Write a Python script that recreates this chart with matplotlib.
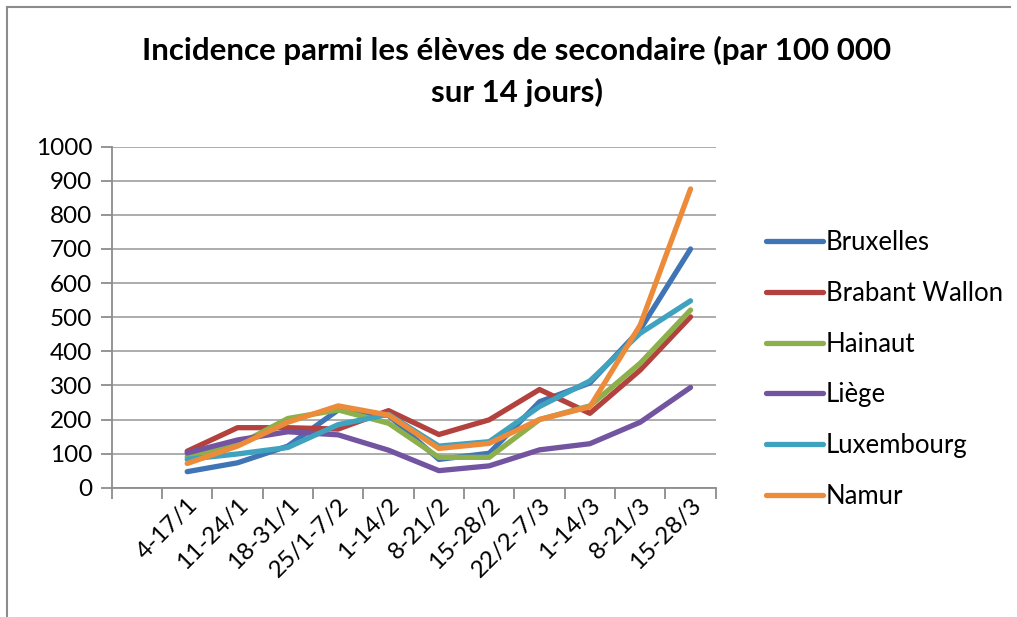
import matplotlib
matplotlib.use('Agg')
from matplotlib import pyplot as plt
from matplotlib.lines import Line2D
import numpy as np

# catégories (la première est vide dans le graphique d'origine)
periodes = ['', '4-17/1', '11-24/1', '18-31/1', '25/1-7/2', '1-14/2', '8-21/2',
            '15-28/2', '22/2-7/3', '1-14/3', '8-21/3', '15-28/3']

# incidence par 100 000 sur 14 jours
bruxelles      = [47, 73, 122, 228, 212, 83, 101, 252, 307, 464, 700]
brabant_wallon = [107, 176, 176, 172, 226, 156, 199, 288, 218, 345, 501]
hainaut        = [91, 125, 203, 228, 189, 89, 89, 200, 240, 365, 521]
liege          = [102, 140, 164, 155, 110, 50, 64, 111, 129, 192, 294]
luxembourg     = [83, 99, 118, 185, 215, 122, 135, 238, 313, 453, 548]
namur          = [71, 122, 192, 240, 213, 115, 130, 200, 237, 477, 876]

noms = ['Bruxelles', 'Brabant Wallon', 'Hainaut', 'Liège', 'Luxembourg', 'Namur']
series = [bruxelles, brabant_wallon, hainaut, liege, luxembourg, namur]
couleurs = ['#3F74B5', '#B3413E', '#8DB04C', '#7354A0', '#3FA2BE', '#EC8B3A']

plt.rcParams['font.family'] = ['Lato', 'DejaVu Sans']

fig = plt.figure(figsize=(10.17, 6.17), dpi=100)
ax = fig.add_axes([111.7/1017, 129.3/617, 604/1017, 341/617])

x = np.arange(1, len(periodes))
for nom, val, c in zip(noms, series, couleurs):
    ax.plot(x, val, color=c, lw=3.8, solid_capstyle='round', solid_joinstyle='round', label=nom)

ax.set_xlim(-0.5, len(periodes) - 0.5)
ax.set_ylim(0, 1000)
ax.set_yticks(np.arange(0, 1001, 100))
ax.yaxis.grid(True, color='#A6A6A6', lw=1.3)
ax.set_axisbelow(True)

# graduations aux limites des catégories, étiquettes au centre
ax.set_xticks(np.arange(-0.5, len(periodes), 1.0))
ax.set_xticklabels([])
ax.set_xticks(np.arange(len(periodes)), minor=True)
ax.set_xticklabels(periodes, minor=True, rotation=45, ha='right', va='top',
                   rotation_mode='anchor', fontsize=17.5)
ax.tick_params(axis='x', which='major', length=8, width=1.3, color='#8C8C8C')
ax.tick_params(axis='x', which='minor', length=0, pad=5)
ax.tick_params(axis='y', length=8, width=1.3, color='#8C8C8C', labelsize=17.5, pad=6)

for s in ['top', 'right']:
    ax.spines[s].set_visible(False)
for s in ['left', 'bottom']:
    ax.spines[s].set_color('#8C8C8C')
    ax.spines[s].set_linewidth(1.3)

handles = [Line2D([0], [0], color=c, lw=3.8, solid_capstyle='round') for c in couleurs]
fig.legend(handles, noms, loc='upper left', bbox_to_anchor=(756/1017, 1 - 220/617),
           frameon=False, fontsize=18.5, handlelength=2.2, handletextpad=0.12,
           labelspacing=1.0, borderaxespad=0)

fig.text(517/1017, 1 - 50/617, 'Incidence parmi les élèves de secondaire (par 100 000',
         ha='center', va='center', fontsize=22.5, fontweight='bold')
fig.text(517/1017, 1 - 92/617, 'sur 14 jours)', ha='center', va='center',
         fontsize=22.5, fontweight='bold')

# cadre du graphique
fig.add_artist(Line2D([7/1017, 7/1017], [0, 1 - 7/617], color='#8C8C8C', lw=1.5,
                      transform=fig.transFigure))
fig.add_artist(Line2D([7/1017, 1010/1017], [1 - 7/617, 1 - 7/617], color='#8C8C8C', lw=1.5,
                      transform=fig.transFigure))

fig.savefig('out.png', dpi=100)
